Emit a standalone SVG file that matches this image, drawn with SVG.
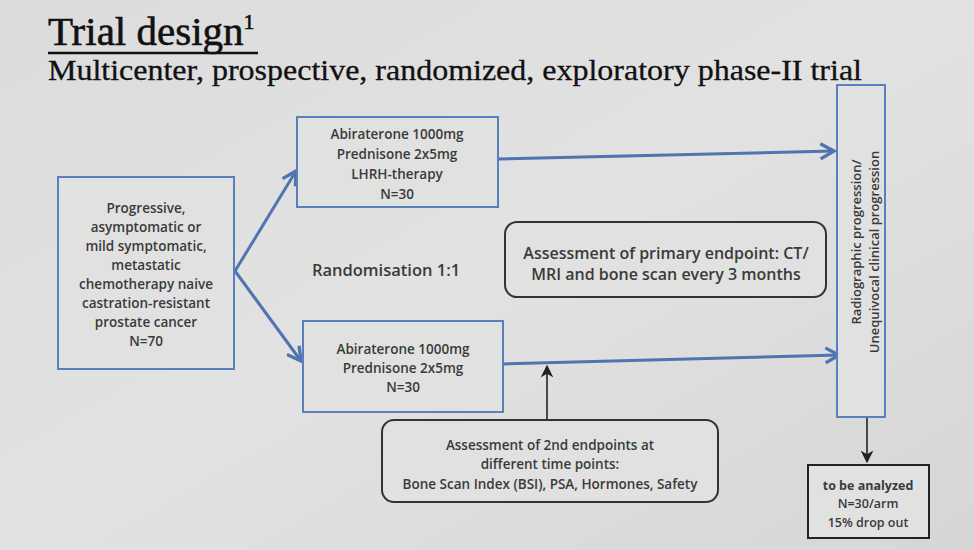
<svg xmlns="http://www.w3.org/2000/svg" width="974" height="550" viewBox="0 0 974 550">
<defs>
<linearGradient id="bg" x1="0" y1="0" x2="1" y2="1">
<stop offset="0" stop-color="#dcdcdc"/>
<stop offset="0.5" stop-color="#e2e2e2"/>
<stop offset="1" stop-color="#d6d6d6"/>
</linearGradient>
<marker id="chev" viewBox="0 0 12 12" refX="10" refY="6" markerWidth="6" markerHeight="6" markerUnits="strokeWidth" orient="auto">
<path d="M1,1 L10,6 L1,11" fill="none" stroke="#4f74b0" stroke-width="2.2"/>
</marker>
<marker id="tri" viewBox="0 0 10 10" refX="9" refY="5" markerWidth="8" markerHeight="8" markerUnits="strokeWidth" orient="auto">
<path d="M0,0 L10,5 L0,10 L3,5 Z" fill="#222"/>
</marker>
</defs>
<style>
.box{fill:#e1e1e1;stroke:#5a7fb9;stroke-width:2}
.rbox{fill:#e1e1e1;stroke:#333;stroke-width:2}
.t{font-family:"Open Sans","Liberation Sans",sans-serif;font-size:13.5px;font-weight:600;fill:#3a3a3a;text-anchor:middle}
.blue{fill:none;stroke:#4f74b0;stroke-width:3;marker-end:url(#chev)}
.blk{fill:none;stroke:#222;stroke-width:1.6;marker-end:url(#tri)}
</style>
<rect width="974" height="550" fill="url(#bg)"/>
<g id="title">
<text x="48" y="45" font-family="'Liberation Serif',serif" font-size="41" fill="#111" stroke="#111" stroke-width="0.6">Trial design<tspan font-size="22" dy="-16">1</tspan></text>
<line x1="48" y1="53" x2="258" y2="53" stroke="#111" stroke-width="2.5"/>
<text x="48" y="80" font-family="'Liberation Serif',serif" font-size="30" fill="#111" stroke="#111" stroke-width="0.3" textLength="814" lengthAdjust="spacingAndGlyphs">Multicenter, prospective, randomized, exploratory phase-II trial</text>
</g>
<g id="connectors">
<path class="blue" d="M235,271 L296,171"/>
<path class="blue" d="M235,271 L301,361"/>
<path class="blue" d="M498,159 L834,151"/>
<path class="blue" d="M503,364 L839,355"/>
<path class="blk" d="M547,420 L547,366"/>
<path class="blk" d="M867,417 L867,462"/>
</g>
<g id="population">
<rect class="box" x="58" y="177" width="176" height="192"/>
<text class="t" x="146" y="213">Progressive,</text>
<text class="t" x="146" y="232">asymptomatic or</text>
<text class="t" x="146" y="251">mild symptomatic,</text>
<text class="t" x="146" y="270">metastatic</text>
<text class="t" x="146" y="289">chemotherapy naive</text>
<text class="t" x="146" y="308">castration-resistant</text>
<text class="t" x="146" y="327">prostate cancer</text>
<text class="t" x="146" y="346">N=70</text>
</g>
<g id="arm1">
<rect class="box" x="297" y="117" width="201" height="90"/>
<text class="t" x="397" y="139">Abiraterone 1000mg</text>
<text class="t" x="397" y="159">Prednisone 2x5mg</text>
<text class="t" x="397" y="179">LHRH-therapy</text>
<text class="t" x="397" y="199">N=30</text>
</g>
<g id="randomisation">
<text class="t" x="386" y="276" style="font-size:16.5px">Randomisation 1:1</text>
</g>
<g id="arm2">
<rect class="box" x="303" y="321" width="200" height="91"/>
<text class="t" x="403" y="354">Abiraterone 1000mg</text>
<text class="t" x="403" y="373">Prednisone 2x5mg</text>
<text class="t" x="403" y="392">N=30</text>
</g>
<g id="primary">
<rect class="rbox" x="505" y="222" width="321" height="75" rx="12"/>
<text class="t" x="666" y="259" style="font-size:16px">Assessment of primary endpoint: CT/</text>
<text class="t" x="666" y="280" style="font-size:16px">MRI and bone scan every 3 months</text>
</g>
<g id="secondary">
<rect class="rbox" x="382" y="420" width="336" height="82" rx="12"/>
<text class="t" x="550" y="450">Assessment of 2nd endpoints at</text>
<text class="t" x="550" y="469">different time points:</text>
<text class="t" x="550" y="489">Bone Scan Index (BSI), PSA, Hormones, Safety</text>
</g>
<g id="progression">
<rect class="box" x="837" y="85" width="48" height="332"/>
<text class="t" transform="translate(861,242) rotate(-90)" style="font-size:13px">Radiographic progression/</text>
<text class="t" transform="translate(879,252) rotate(-90)" style="font-size:13px">Unequivocal clinical progression</text>
</g>
<g id="analysis">
<rect x="808" y="465" width="121" height="73" fill="#e1e1e1" stroke="#222" stroke-width="2"/>
<text class="t" x="868" y="490" style="font-weight:bold;font-size:12.5px">to be analyzed</text>
<text class="t" x="868" y="508" style="font-size:12.5px">N=30/arm</text>
<text class="t" x="868" y="527" style="font-size:12.5px">15% drop out</text>
</g>
</svg>
